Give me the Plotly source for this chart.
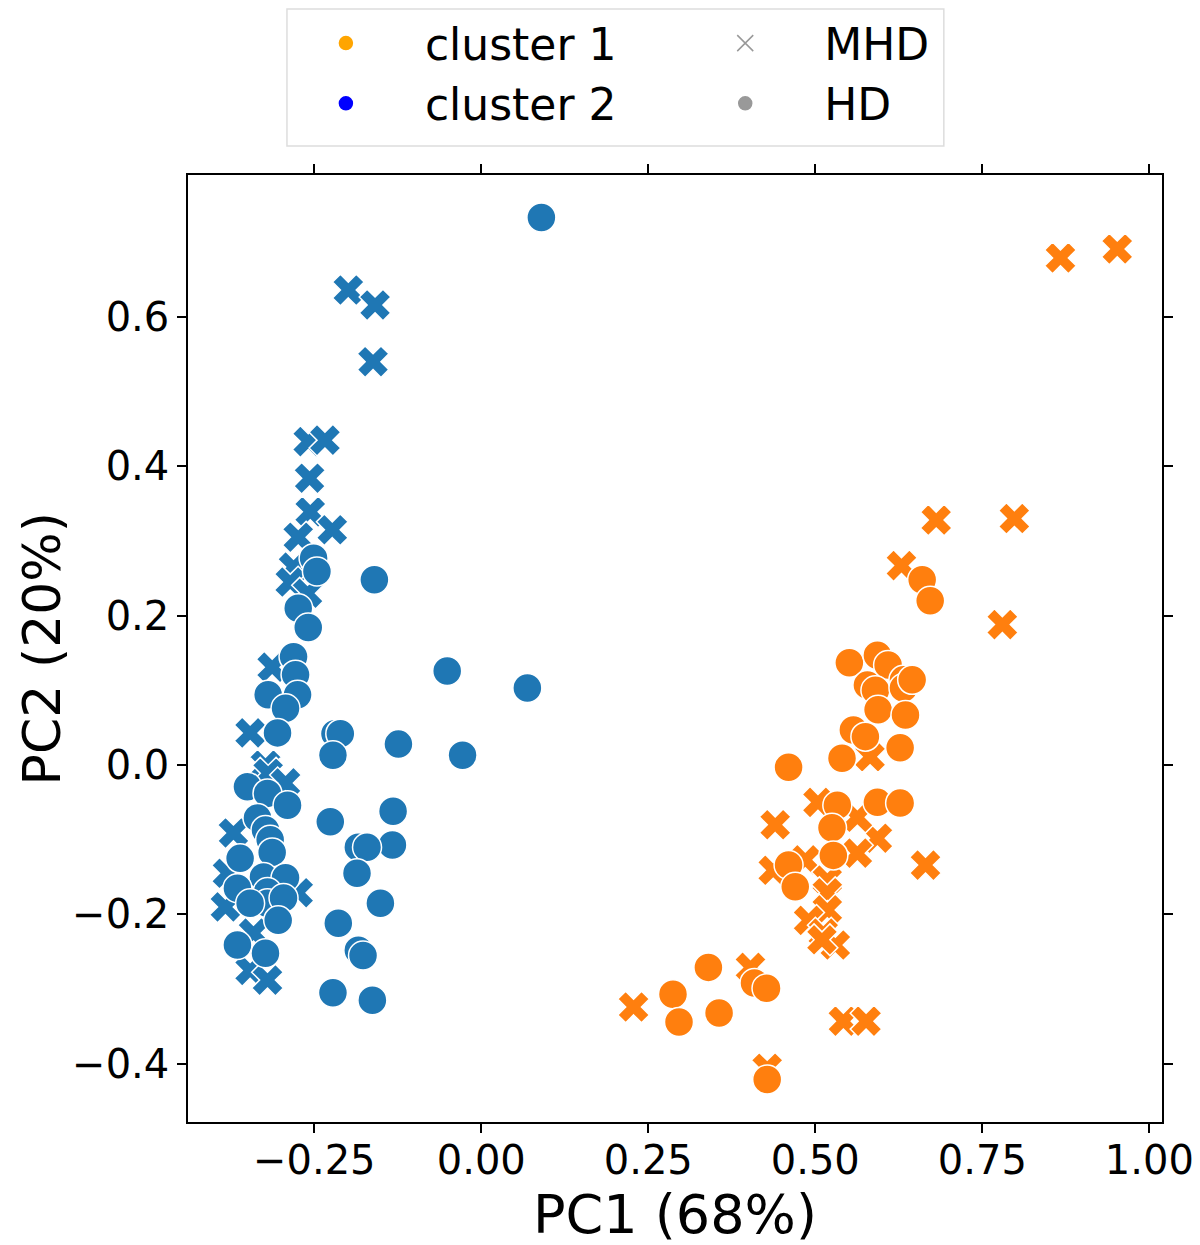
import plotly.graph_objects as go

# cluster 2 (blue), MHD runs
c2_mhd_x = [-0.199, -0.159, -0.162, -0.259, -0.234, -0.257, -0.256, -0.223, -0.274, -0.281,
            -0.286, -0.260, -0.313, -0.346, -0.323, -0.319, -0.293, -0.371, -0.380, -0.383,
            -0.274, -0.341, -0.346, -0.320]
c2_mhd_y = [0.636, 0.616, 0.540, 0.433, 0.435, 0.384, 0.339, 0.315, 0.305, 0.265,
            0.245, 0.230, 0.131, 0.043, 0.000, -0.011, -0.024, -0.091, -0.145, -0.190,
            -0.171, -0.225, -0.275, -0.288]

# cluster 2 (blue), HD runs
c2_hd_x = [0.090, -0.160, -0.051, 0.069, -0.028, -0.124, -0.219, -0.211, -0.222, -0.226,
           -0.132, -0.133, -0.184, -0.171, -0.186, -0.151, -0.214, -0.184, -0.177, -0.222,
           -0.163, -0.251, -0.246, -0.274, -0.259, -0.281, -0.278, -0.319, -0.275, -0.293,
           -0.305, -0.350, -0.320, -0.290, -0.335, -0.323, -0.316, -0.313, -0.361, -0.326,
           -0.293, -0.365, -0.320, -0.320, -0.296, -0.304, -0.365, -0.323, -0.346]
c2_hd_y = [0.733, 0.248, 0.126, 0.103, 0.013, 0.028, 0.042, 0.042, 0.013, -0.076,
           -0.062, -0.107, -0.110, -0.110, -0.145, -0.185, -0.212, -0.248, -0.255, -0.305,
           -0.315, 0.277, 0.259, 0.210, 0.184, 0.145, 0.121, 0.094, 0.094, 0.076,
           0.043, -0.029, -0.038, -0.054, -0.071, -0.087, -0.100, -0.117, -0.125, -0.150,
           -0.151, -0.165, -0.170, -0.185, -0.178, -0.208, -0.241, -0.252, -0.185]

# cluster 1 (orange), MHD runs
c1_mhd_x = [0.867, 0.952, 0.681, 0.798, 0.629, 0.780, 0.440, 0.593, 0.665, 0.563,
            0.563, 0.504, 0.485, 0.437, 0.518, 0.518, 0.518, 0.490, 0.512, 0.530,
            0.510, 0.403, 0.228, 0.542, 0.576, 0.428, 0.582]
c1_mhd_y = [0.679, 0.691, 0.328, 0.330, 0.267, 0.188, -0.080, -0.098, -0.134, -0.070,
            -0.118, -0.050, -0.127, -0.141, -0.154, -0.171, -0.194, -0.208, -0.225, -0.241,
            -0.234, -0.271, -0.324, -0.343, -0.343, -0.406, 0.011]

# cluster 1 (orange), HD runs
c1_hd_x = [0.660, 0.672, 0.551, 0.593, 0.609, 0.578, 0.590, 0.632, 0.632, 0.645,
           0.594, 0.635, 0.557, 0.575, 0.627, 0.540, 0.460, 0.533, 0.593, 0.627,
           0.525, 0.527, 0.460, 0.470, 0.340, 0.287, 0.296, 0.356, 0.409, 0.427,
           0.428]
c1_hd_y = [0.248, 0.220, 0.137, 0.147, 0.134, 0.107, 0.100, 0.114, 0.103, 0.114,
           0.074, 0.067, 0.047, 0.038, 0.023, 0.009, -0.003, -0.054, -0.050, -0.051,
           -0.084, -0.121, -0.134, -0.163, -0.271, -0.307, -0.344, -0.332, -0.292, -0.299,
           -0.421]

BLUE = "#1f77b4"
ORANGE = "#ff7f0e"
FONT = "DejaVu Sans"

fig = go.Figure()

for xs, ys, color, symbol, size in [
    (c2_mhd_x, c2_mhd_y, BLUE, "x", 28),
    (c2_hd_x, c2_hd_y, BLUE, "circle", 29),
    (c1_mhd_x, c1_mhd_y, ORANGE, "x", 28),
    (c1_hd_x, c1_hd_y, ORANGE, "circle", 29),
]:
    fig.add_trace(
        go.Scatter(
            x=xs, y=ys, mode="markers", showlegend=False,
            marker=dict(color=color, symbol=symbol, size=size,
                        line=dict(color="white", width=1.5)),
        )
    )

# legend entries: hue column in "legend", style column in "legend2"
legend_items = [
    ("cluster 1", "circle", "#FFA500", 13, "legend"),
    ("cluster 2", "circle", "#0000FF", 13, "legend"),
    ("MHD", "x-thin-open", "#999999", 16, "legend2"),
    ("HD", "circle", "#999999", 13, "legend2"),
]
for name, symbol, color, size, leg in legend_items:
    fig.add_trace(
        go.Scatter(
            x=[None], y=[None], mode="markers", name=name, legend=leg,
            marker=dict(color=color, symbol=symbol, size=size,
                        line=dict(color=color, width=1.5)),
        )
    )

axis_common = dict(
    showgrid=False, zeroline=False, showline=True, linecolor="black", linewidth=1.5,
    mirror="ticks", ticks="outside", ticklen=9, tickwidth=1.5, tickcolor="black",
    tickfont=dict(size=40, color="black", family=FONT), automargin=False,
)

legend_common = dict(
    orientation="v", yref="container", y=1.0, yanchor="top", xanchor="left",
    font=dict(size=44, family=FONT), bgcolor="rgba(0,0,0,0)",
    borderwidth=0, itemwidth=148, traceorder="normal",
)

fig.update_layout(
    width=1192, height=1237, autosize=False,
    margin=dict(l=180, r=38, t=167, b=123, autoexpand=False),
    plot_bgcolor="white", paper_bgcolor="white",
    font=dict(family=FONT, color="black"),
    xaxis=dict(range=[-0.439, 1.019], tick0=0, dtick=0.25, tickformat=".2f",
               ticklabelstandoff=-7, **axis_common),
    yaxis=dict(range=[-0.478, 0.790], tick0=0, dtick=0.2, tickformat=".1f", **axis_common),
    legend=dict(x=0.081, **legend_common),
    legend2=dict(x=0.491, **legend_common),
    shapes=[
        dict(type="rect", xref="paper", yref="paper", x0=0.1016, x1=0.776,
             y0=1.0306, y1=1.1753, line=dict(color="#dddddd", width=1.5),
             fillcolor="white", layer="above"),
    ],
    annotations=[
        dict(text="PC1 (68%)", xref="paper", yref="paper", x=0.5, y=-0.0975,
             xanchor="center", yanchor="middle", showarrow=False,
             font=dict(size=54, family=FONT, color="black")),
        dict(text="PC2 (20%)", xref="paper", yref="paper", x=-0.150, y=0.5,
             xanchor="center", yanchor="middle", showarrow=False, textangle=-90,
             font=dict(size=52, family=FONT, color="black")),
    ],
)

fig.write_html("out.html")
